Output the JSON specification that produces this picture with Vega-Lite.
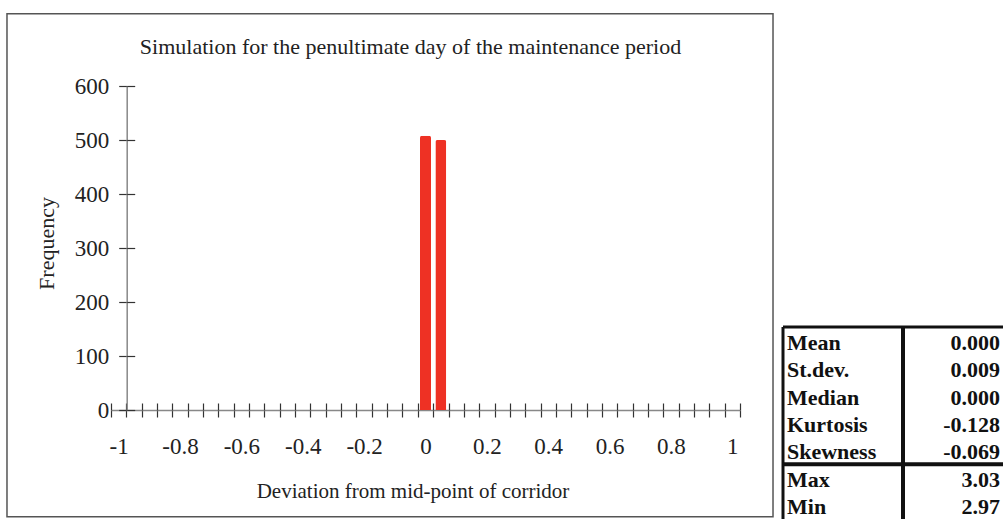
{
  "$schema": "https://vega.github.io/schema/vega-lite/v6.json",
  "padding": {"left": 6, "top": 12, "right": 0, "bottom": 0},
  "autosize": {"type": "pad"},
  "background": "white",
  "config": {"view": {"stroke": null}, "font": "Liberation Serif"},
  "bounds": "flush",
  "spacing": 43,
  "hconcat": [
    {
      "width": 629,
      "height": 324,
      "title": {"text": "Simulation for the penultimate day of the maintenance period", "font": "Liberation Serif", "fontSize": 22, "fontWeight": "normal", "color": "#222", "anchor": "middle", "frame": "group", "dx": -15, "offset": -46},
      "resolve": {"axis": {"x": "independent", "y": "independent"}},
      "layer": [
        {
          "data": {"values": [{}]},
          "mark": {"type": "rect", "filled": false, "color": "#555", "strokeWidth": 1.5},
          "encoding": {
            "x": {"datum": -1.364, "type": "quantitative", "scale": {"domain": [-1.025, 1.025], "nice": false, "zero": false, "padding": 0}, "axis": null},
            "x2": {"datum": 1.1326},
            "y": {"datum": -197.6, "type": "quantitative", "scale": {"domain": [0, 600], "nice": false, "zero": false}, "axis": null},
            "y2": {"datum": 733.9}
          }
        },
        {
          "data": {"values": [
            {"deviation": -1, "frequency": 0}, {"deviation": -0.95, "frequency": 0}, {"deviation": -0.9, "frequency": 0}, {"deviation": -0.85, "frequency": 0},
            {"deviation": -0.8, "frequency": 0}, {"deviation": -0.75, "frequency": 0}, {"deviation": -0.7, "frequency": 0}, {"deviation": -0.65, "frequency": 0},
            {"deviation": -0.6, "frequency": 0}, {"deviation": -0.55, "frequency": 0}, {"deviation": -0.5, "frequency": 0}, {"deviation": -0.45, "frequency": 0},
            {"deviation": -0.4, "frequency": 0}, {"deviation": -0.35, "frequency": 0}, {"deviation": -0.3, "frequency": 0}, {"deviation": -0.25, "frequency": 0},
            {"deviation": -0.2, "frequency": 0}, {"deviation": -0.15, "frequency": 0}, {"deviation": -0.1, "frequency": 0}, {"deviation": -0.05, "frequency": 0},
            {"deviation": 0, "frequency": 508}, {"deviation": 0.05, "frequency": 500}, {"deviation": 0.1, "frequency": 0}, {"deviation": 0.15, "frequency": 0},
            {"deviation": 0.2, "frequency": 0}, {"deviation": 0.25, "frequency": 0}, {"deviation": 0.3, "frequency": 0}, {"deviation": 0.35, "frequency": 0},
            {"deviation": 0.4, "frequency": 0}, {"deviation": 0.45, "frequency": 0}, {"deviation": 0.5, "frequency": 0}, {"deviation": 0.55, "frequency": 0},
            {"deviation": 0.6, "frequency": 0}, {"deviation": 0.65, "frequency": 0}, {"deviation": 0.7, "frequency": 0}, {"deviation": 0.75, "frequency": 0},
            {"deviation": 0.8, "frequency": 0}, {"deviation": 0.85, "frequency": 0}, {"deviation": 0.9, "frequency": 0}, {"deviation": 0.95, "frequency": 0},
            {"deviation": 1, "frequency": 0}
          ]},
          "mark": {"type": "bar", "orient": "vertical", "size": 11, "color": "#ee3124", "cornerRadiusTopLeft": 2, "cornerRadiusTopRight": 2},
          "encoding": {
            "x": {"field": "deviation", "type": "quantitative", "scale": {"domain": [-1.025, 1.025], "nice": false, "zero": false, "padding": 0},
              "axis": {"orient": "bottom", "values": [-1.025, -0.975, -0.925, -0.875, -0.825, -0.775, -0.725, -0.675, -0.625, -0.575, -0.525, -0.475, -0.425, -0.375, -0.325, -0.275, -0.225, -0.175, -0.125, -0.075, -0.025, 0.025, 0.075, 0.125, 0.175, 0.225, 0.275, 0.325, 0.375, 0.425, 0.475, 0.525, 0.575, 0.625, 0.675, 0.725, 0.775, 0.825, 0.875, 0.925, 0.975, 1.025],
                "labels": false, "tickSize": 7, "tickColor": "#333", "tickWidth": 1.2, "domainColor": "#888", "domainWidth": 1.5, "title": null, "grid": false}},
            "y": {"field": "frequency", "type": "quantitative", "scale": {"domain": [0, 600], "nice": false, "zero": false},
              "axis": {"orient": "left", "offset": -15.7, "values": [0, 100, 200, 300, 400, 500, 600], "tickSize": 8, "tickColor": "#333", "tickWidth": 1.2, "domainColor": "#888", "domainWidth": 1.5,
                "labelPadding": 10, "labelFont": "Liberation Serif", "labelFontSize": 23, "labelColor": "#222", "grid": false,
                "title": "Frequency", "titleFont": "Liberation Serif", "titleFontSize": 22, "titleFontWeight": "normal", "titleColor": "#222",
                "titleX": -80, "titleY": 157, "titleAngle": -90, "titleBaseline": "middle", "titleAlign": "center"}}
          }
        },
        {
          "data": {"values": []},
          "mark": "point",
          "encoding": {
            "x": {"field": "deviation", "type": "quantitative", "scale": {"domain": [-1.025, 1.025], "nice": false, "zero": false, "padding": 0},
              "axis": {"orient": "bottom", "values": [-1.025, -0.975, -0.925, -0.875, -0.825, -0.775, -0.725, -0.675, -0.625, -0.575, -0.525, -0.475, -0.425, -0.375, -0.325, -0.275, -0.225, -0.175, -0.125, -0.075, -0.025, 0.025, 0.075, 0.125, 0.175, 0.225, 0.275, 0.325, 0.375, 0.425, 0.475, 0.525, 0.575, 0.625, 0.675, 0.725, 0.775, 0.825, 0.875, 0.925, 0.975, 1.025],
                "labels": false, "domain": false, "tickSize": -7, "tickColor": "#333", "tickWidth": 1.2, "title": null, "grid": false}},
            "y": {"field": "frequency", "type": "quantitative", "scale": {"domain": [0, 600], "nice": false, "zero": false},
              "axis": {"orient": "left", "offset": -15.7, "values": [0, 100, 200, 300, 400, 500, 600], "labels": false, "domain": false, "tickSize": -8, "tickColor": "#333", "tickWidth": 1.2, "title": null, "grid": false}}
          }
        },
        {
          "data": {"values": []},
          "mark": "point",
          "encoding": {
            "x": {"field": "deviation", "type": "quantitative", "scale": {"domain": [-1.025, 1.025], "nice": false, "zero": false, "padding": 0},
              "axis": {"orient": "bottom", "values": [-1, -0.8, -0.6, -0.4, -0.2, 0, 0.2, 0.4, 0.6, 0.8, 1], "ticks": false, "tickSize": 0, "domain": false,
                "labelPadding": 25, "labelFont": "Liberation Serif", "labelFontSize": 23, "labelColor": "#222", "labelFlush": false, "labelOverlap": false,
                "labelExpr": "datum.value < 0 ? '-' + format(-datum.value, '~g') : format(datum.value, '~g')", "grid": false,
                "title": "Deviation from mid-point of corridor", "titleFont": "Liberation Serif", "titleFontSize": 21, "titleFontWeight": "normal", "titleColor": "#222",
                "titleX": 301.5, "titleY": 81, "titleBaseline": "middle", "titleAlign": "center"}}
          }
        }
      ]
    },
    {
      "bounds": "flush",
      "spacing": 0,
      "vconcat": [
        {"width": 220, "height": 240.7, "data": {"values": []}, "mark": "point"},
        {
          "bounds": "flush",
          "spacing": 0,
          "data": {"values": [
            {"stat": "Mean", "value": "0.000"},
            {"stat": "St.dev.", "value": "0.009"},
            {"stat": "Median", "value": "0.000"},
            {"stat": "Kurtosis", "value": "-0.128"},
            {"stat": "Skewness", "value": "-0.069"},
            {"stat": "Max", "value": "3.03"},
            {"stat": "Min", "value": "2.97"}
          ]},
          "hconcat": [
            {
              "width": 120,
              "height": 192,
              "layer": [
                {
                  "mark": {"type": "text", "align": "left", "baseline": "middle", "font": "Liberation Serif", "fontWeight": "bold", "fontSize": 22, "color": "#111", "dx": 4, "dy": 2},
                  "encoding": {
                    "x": {"datum": "left", "type": "nominal", "scale": {"type": "point", "domain": ["left", "right"], "padding": 0}, "axis": null},
                    "y": {"field": "stat", "type": "nominal", "scale": {"type": "band", "domain": ["Mean", "St.dev.", "Median", "Kurtosis", "Skewness", "Max", "Min"], "paddingInner": 0, "paddingOuter": 0}, "axis": null},
                    "text": {"field": "stat"}
                  }
                },
                {
                  "data": {"values": [{}]},
                  "mark": {"type": "rule", "color": "#111", "strokeWidth": 3},
                  "encoding": {"x": {"datum": "left", "type": "nominal", "scale": {"type": "point", "domain": ["left", "right"], "padding": 0}, "axis": null}}
                },
                {
                  "data": {"values": [{}]},
                  "mark": {"type": "rule", "color": "#111", "strokeWidth": 4},
                  "encoding": {"x": {"datum": "right", "type": "nominal", "scale": {"type": "point", "domain": ["left", "right"], "padding": 0}, "axis": null}}
                },
                {
                  "data": {"values": [{}]},
                  "mark": {"type": "rule", "color": "#111", "strokeWidth": 3},
                  "encoding": {"y": {"datum": "Mean", "type": "nominal", "bandPosition": 0, "scale": {"type": "band", "domain": ["Mean", "St.dev.", "Median", "Kurtosis", "Skewness", "Max", "Min"], "paddingInner": 0, "paddingOuter": 0}, "axis": null}}
                },
                {
                  "data": {"values": [{}]},
                  "mark": {"type": "rule", "color": "#111", "strokeWidth": 4},
                  "encoding": {"y": {"datum": "Max", "type": "nominal", "bandPosition": 0, "scale": {"type": "band", "domain": ["Mean", "St.dev.", "Median", "Kurtosis", "Skewness", "Max", "Min"], "paddingInner": 0, "paddingOuter": 0}, "axis": null}}
                }
              ]
            },
            {
              "width": 100,
              "height": 192,
              "layer": [
                {
                  "mark": {"type": "text", "align": "right", "baseline": "middle", "font": "Liberation Serif", "fontWeight": "bold", "fontSize": 22, "color": "#111", "dx": -3, "dy": 2},
                  "encoding": {
                    "x": {"datum": "right", "type": "nominal", "scale": {"type": "point", "domain": ["left", "right"], "padding": 0}, "axis": null},
                    "y": {"field": "stat", "type": "nominal", "scale": {"type": "band", "domain": ["Mean", "St.dev.", "Median", "Kurtosis", "Skewness", "Max", "Min"], "paddingInner": 0, "paddingOuter": 0}, "axis": null},
                    "text": {"field": "value"}
                  }
                },
                {
                  "data": {"values": [{}]},
                  "mark": {"type": "rule", "color": "#111", "strokeWidth": 3},
                  "encoding": {"y": {"datum": "Mean", "type": "nominal", "bandPosition": 0, "scale": {"type": "band", "domain": ["Mean", "St.dev.", "Median", "Kurtosis", "Skewness", "Max", "Min"], "paddingInner": 0, "paddingOuter": 0}, "axis": null}}
                },
                {
                  "data": {"values": [{}]},
                  "mark": {"type": "rule", "color": "#111", "strokeWidth": 4},
                  "encoding": {"y": {"datum": "Max", "type": "nominal", "bandPosition": 0, "scale": {"type": "band", "domain": ["Mean", "St.dev.", "Median", "Kurtosis", "Skewness", "Max", "Min"], "paddingInner": 0, "paddingOuter": 0}, "axis": null}}
                }
              ]
            }
          ]
        }
      ]
    }
  ]
}
